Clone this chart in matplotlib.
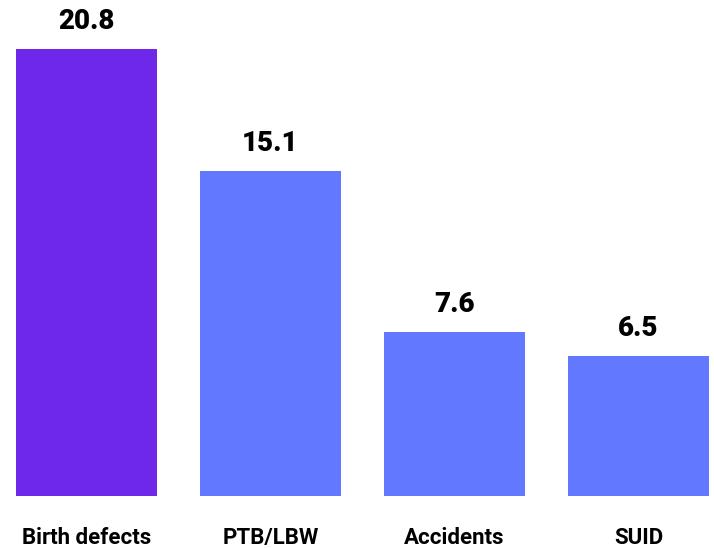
import matplotlib.pyplot as plt

categories = ["Birth defects", "PTB/LBW", "Accidents", "SUID"]
values = [20.8, 15.1, 7.6, 6.5]
bar_colors = ["#6E28EA", "#6278FF", "#6278FF", "#6278FF"]

fig = plt.figure(figsize=(7.14, 5.48), dpi=100)
# axes placed in pixels: bars span x 16..709, baseline at y ~496, top of tallest bar at y ~49
ax = fig.add_axes([16 / 714, 52.3 / 548, 693 / 714, 446.7 / 548])

x = list(range(len(categories)))
ax.bar(x, values, width=0.766, color=bar_colors)
ax.set_xlim(-0.383, len(categories) - 1 + 0.383)
ax.set_ylim(0, max(values))
ax.axis("off")

for xi, v in zip(x, values):
    ax.annotate(
        f"{v}",
        xy=(xi, v),
        xytext=(0, 14.5),
        textcoords="offset points",
        ha="center",
        va="baseline",
        fontsize=20,
        fontweight="black",
        family=["Roboto", "DejaVu Sans"],
        color="black",
        annotation_clip=False,
    )

for xi, name in zip(x, categories):
    ax.annotate(
        name,
        xy=(xi, 0),
        xytext=(0, -35),
        textcoords="offset points",
        ha="center",
        va="baseline",
        fontsize=16,
        fontweight="bold",
        family=["Roboto", "DejaVu Sans"],
        color="black",
        annotation_clip=False,
    )

fig.savefig("out.png", dpi=100)
